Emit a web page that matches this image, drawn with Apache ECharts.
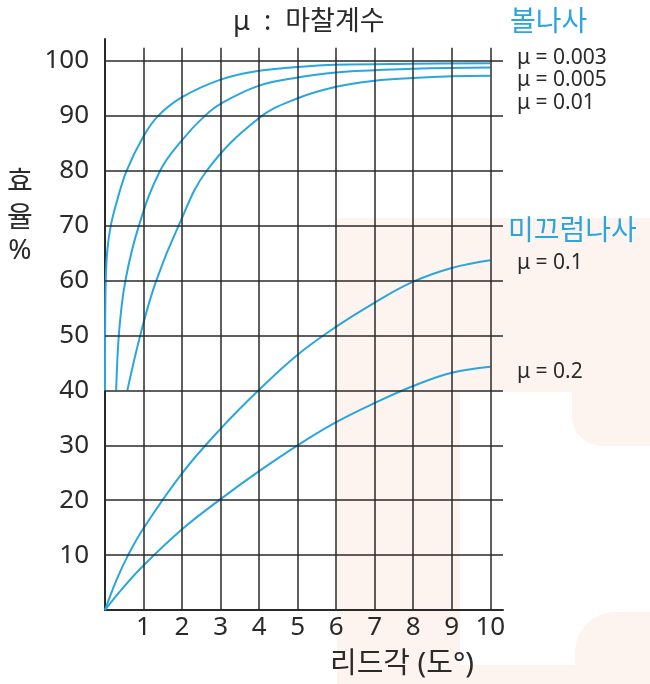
<!DOCTYPE html>
<html lang="ko">
<head>
    <meta charset="UTF-8">
    <title>리드각과 효율</title>
    <style>
        body { margin: 0; background: #fff; }
        #chart { width: 650px; height: 684px; }
    </style>
    <script src="https://cdn.jsdelivr.net/npm/echarts@6/dist/echarts.min.js"></script>
</head>
<body>
<div id="chart"></div>
<script>
    // grid lines
    const gridX = [1, 2, 3, 4, 5, 6, 7, 8, 9, 10];
    const gridY = [10, 20, 30, 40, 50, 60, 70, 80, 90, 100];

    // efficiency curves [lead angle, efficiency %]
    const mu003 = [[0, 40], [0.003, 50], [0.02, 60], [0.06, 65.5], [0.15, 70], [0.32, 74.7], [0.56, 80], [1, 86.3],
        [1.38, 90], [2, 93.4], [3, 96.6], [4, 98.2], [5, 98.9], [6, 99.3], [8, 99.5], [10, 99.6]];
    const mu005 = [[0.29, 40], [0.37, 51], [0.53, 60], [0.88, 70], [1.43, 80], [2, 85.6], [2.59, 90], [3, 92.2],
        [4, 95.5], [5, 97.0], [6, 97.9], [7, 98.3], [8, 98.6], [10, 98.8]];
    const mu01 = [[0.58, 40], [0.95, 51], [1.33, 60], [1.91, 70], [2.64, 80], [4, 89.6], [5, 93.2],
        [6, 95.3], [7, 96.4], [8, 96.9], [9, 97.2], [10, 97.3]];
    const mu1 = [[0, 0], [0.3, 5.5], [0.6, 10], [1, 14.9], [2, 24.9], [3, 33.0], [4, 40.1],
        [5, 46.5], [6, 51.6], [7, 56.0], [8, 59.8], [9, 62.3], [10, 63.7]];
    const mu2 = [[0, 0], [0.5, 4.3], [1, 8.1], [2, 14.7], [3, 20.2], [4, 25.3], [5, 30.0], [6, 34.2],
        [7, 37.7], [8, 40.8], [9, 43.2], [10, 44.3]];

    const FONT = "'Noto Sans', 'Noto Sans CJK KR', sans-serif";
    const INK = '#2a2a2a';
    const BLUE = '#2aa6de';
    const PINK = '#fdf4f0';

    function txt(text, x, y, size, color, align) {
        return {
            type: 'text', z: 10,
            style: {
                text: text, x: x, y: y, fill: color,
                fontSize: size, fontFamily: FONT,
                textAlign: align || 'left', align: align || 'left',
                textVerticalAlign: 'middle', verticalAlign: 'middle'
            }
        };
    }

    function pinkRect(x, y, w, h, r) {
        return { type: 'rect', z: -100, shape: { x: x, y: y, width: w, height: h, r: r || 0 }, style: { fill: PINK } };
    }

    const curve = (data) => ({
        type: 'line', data: data, smooth: 0.4, symbol: 'none', z: 3,
        lineStyle: { color: BLUE, width: 2 }
    });

    const chart = echarts.init(document.getElementById('chart'));
    chart.setOption({
        animation: false,
        grid: { left: 105, right: 147, top: 39, bottom: 74 },
        xAxis: {
            type: 'value', min: 0, max: 10.33, interval: 1,
            axisLine: { show: true, lineStyle: { color: INK, width: 2 } },
            axisTick: { show: false },
            splitLine: { show: false },
            axisLabel: {
                fontSize: 26, color: INK, fontFamily: FONT, margin: 5,
                formatter: v => (v >= 1 && v <= 10 && Number.isInteger(v)) ? String(v) : ''
            }
        },
        yAxis: {
            type: 'value', min: 0, max: 104, interval: 10,
            axisLine: { show: true, lineStyle: { color: INK, width: 2 } },
            axisTick: { show: false },
            splitLine: { show: false },
            axisLabel: {
                fontSize: 26, color: INK, fontFamily: FONT, margin: 16,
                formatter: v => (v >= 10 && v <= 100 && v % 10 === 0) ? String(v) : ''
            }
        },
        graphic: [
            pinkRect(337, 218, 123, 466),
            pinkRect(458, 218, 192, 174),
            pinkRect(572, 380, 78, 66, [0, 0, 0, 30]),
            pinkRect(575, 612, 75, 72, [40, 0, 0, 0]),
            pinkRect(458, 665, 192, 19),
            txt('μ  :  마찰계수', 233, 22, 27, INK),
            txt('볼나사', 510, 23, 28, BLUE),
            txt('μ = 0.003', 517, 58, 21, INK),
            txt('μ = 0.005', 517, 80, 21, INK),
            txt('μ = 0.01', 517, 103, 21, INK),
            txt('미끄럼나사', 508, 232, 28, BLUE),
            txt('μ = 0.1', 517, 263, 21, INK),
            txt('μ = 0.2', 517, 372, 21, INK),
            txt('효', 20, 183, 28, INK, 'center'),
            txt('율', 20, 219, 28, INK, 'center'),
            txt('%', 20, 251, 28, INK, 'center'),
            txt('리드각 (도°)', 402, 665, 29, INK, 'center')
        ],
        series: [
            {
                type: 'line', data: [], z: 1,
                markLine: {
                    silent: true, symbol: 'none', label: { show: false },
                    lineStyle: { color: INK, width: 1.5, type: 'solid' },
                    data: gridY.map(v => ({ yAxis: v }))
                        .concat(gridX.map(v => [{ coord: [v, 0] }, { coord: [v, 102.4] }]))
                }
            },
            curve(mu003),
            curve(mu005),
            curve(mu01),
            curve(mu1),
            curve(mu2)
        ]
    });
</script>
</body>
</html>
